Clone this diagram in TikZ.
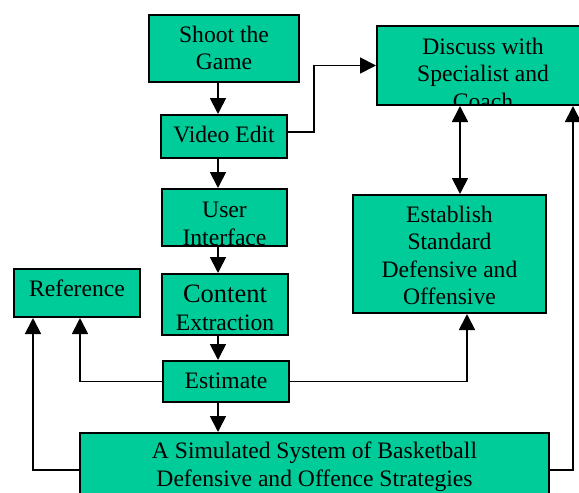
\documentclass[tikz,border=0pt]{standalone}
\usepackage{fontspec}
\setmainfont{Liberation Serif}
\usetikzlibrary{arrows.meta}
\definecolor{boxgreen}{RGB}{0,204,153}
\begin{document}
\begin{tikzpicture}[x=1pt,y=-1pt,
  box/.style={draw=black, line width=2pt, fill=boxgreen, inner sep=0pt},
  txt/.style={font=\fontsize{23.6}{27.5}\selectfont, align=center, inner sep=0pt, anchor=base},
  arr/.style={line width=1.8pt, -{Triangle[width=16pt,length=16pt]}},
  darr/.style={line width=1.8pt, {Triangle[width=16pt,length=16pt]}-{Triangle[width=16pt,length=16pt]}},
  bt/.style 2 args={path picture={\node[txt] at ([yshift=-#1]path picture bounding box.north) {#2};}}
]
\useasboundingbox (0,0) rectangle (579,493);

\node[box, minimum width=150pt, minimum height=67pt, bt={54.5pt}{Shoot the\\Game}] (shoot) at (224,48.5) {};
\node[box, minimum width=126pt, minimum height=43pt, bt={27pt}{Video Edit}] (video) at (224,136.5) {};
\node[box, minimum width=125pt, minimum height=57pt, bt={56pt}{User\\Interface}] (ui) at (224.5,217.5) {};
\node[box, minimum width=126pt, minimum height=61pt, bt={56pt}{{\fontsize{26.5}{27.5}\selectfont Content}\\Extraction}] (content) at (225,304.5) {};
\node[box, minimum width=126pt, minimum height=41pt, bt={27pt}{Estimate}] (estimate) at (226,381.5) {};
\node[box, minimum width=126pt, minimum height=48pt, bt={27pt}{Reference}] (reference) at (77,293) {};
\node[box, minimum width=469pt, minimum height=70pt, bt={53pt}{\fontsize{23.6}{26}\selectfont A Simulated System of Basketball\\Defensive and Offence Strategies}] (bottom) at (314.5,468) {};
\node[box, minimum width=212pt, minimum height=79pt, bt={83pt}{\fontsize{23.6}{29}\selectfont Discuss with\\Specialist and\\Coach}] (discuss) at (483,65.5) {};
\node[box, minimum width=193pt, minimum height=118pt, bt={109.5pt}{Establish\\Standard\\Defensive and\\Offensive}] (establish) at (449.5,254) {};

\coordinate (xa) at (218,0);
\coordinate (vy) at (0,132);
\coordinate (xd) at (460,0);
\coordinate (xr1) at (80,0);
\coordinate (xr2) at (33,0);
\coordinate (xe) at (467,0);
\coordinate (xq) at (573,0);
\coordinate (by) at (0,470);

\draw[arr] (shoot.south -| xa) -- (video.north -| xa);
\draw[arr] (video.south -| xa) -- (ui.north -| xa);
\draw[arr] (ui.south -| xa) -- (content.north -| xa);
\draw[arr] (content.south -| xa) -- (estimate.north -| xa);
\draw[arr] (estimate.south -| xa) -- (bottom.north -| xa);
\draw[arr] (video.east |- vy) -- ++(26,0) |- (discuss.west);
\draw[darr] (discuss.south -| xd) -- (establish.north -| xd);
\draw[arr] (estimate.west) -| (reference.south -| xr1);
\draw[arr] (estimate.east) -| (establish.south -| xe);
\draw[arr] (bottom.west |- by) -| (reference.south -| xr2);
\draw[arr] (bottom.east |- by) -| (discuss.south -| xq);
\end{tikzpicture}
\end{document}
